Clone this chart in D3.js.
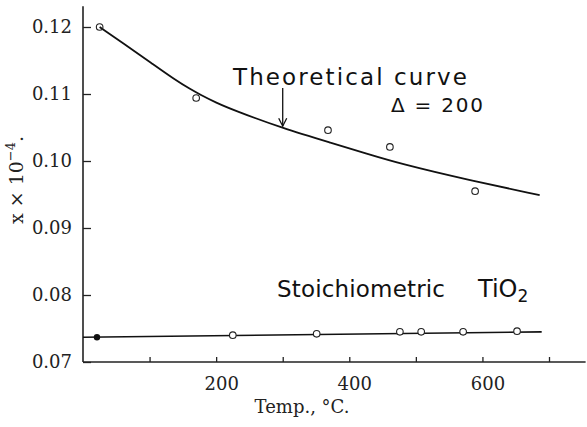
<!DOCTYPE html>
<html>
<head>
<meta charset="utf-8">
<script src="https://cdn.jsdelivr.net/npm/d3@7"></script>
<style>
  body { margin: 0; background: #fff; }
  .axis text { font-family: "DejaVu Serif", serif; font-size: 18px; fill: #222; }
  .hand { font-family: "DejaVu Sans", sans-serif; fill: #111; }
</style>
</head>
<body>
<div id="chart"></div>
<script>
// ticks
const xTicks = [100, 200, 300, 400, 500, 600, 700];
const xLabelled = [200, 400, 600];
const yTicks = [0.07, 0.08, 0.09, 0.10, 0.11, 0.12];

// theoretical curve (delta = 200)
const curveTemp = [25, 60, 103, 140, 160, 176, 200, 226, 299, 376, 426, 476, 577, 686];
const curveX = [0.1200, 0.1176, 0.1146, 0.1120, 0.1108, 0.1099, 0.1087, 0.1076, 0.1049, 0.1026, 0.1011, 0.0996, 0.0972, 0.0949];

// measured points, upper set
const measTemp = [25, 170, 368, 461, 589];
const measX = [0.1200, 0.1094, 0.1046, 0.1021, 0.0955];

// stoichiometric TiO2 points
const stoiTemp = [225, 351, 476, 508, 571, 652];
const stoiX = [0.0740, 0.0742, 0.0745, 0.0745, 0.0745, 0.0746];
const stoiFilled = [[21, 0.0737]];
const stoiLine = [[0, 0.0737], [689, 0.0745]];

const width = 587, height = 427;

const svg = d3.select('#chart').append('svg')
    .attr('width', width)
    .attr('height', height);

const x = d3.scaleLinear().domain([0, 700]).range([83, 549]);
const y = d3.scaleLinear().domain([0.07, 0.12]).range([362, 27]);

// y axis, ticks pointing inward
const yAxis = d3.axisLeft(y)
    .tickValues(yTicks)
    .tickFormat(d3.format('.2f'))
    .tickSizeInner(-8)
    .tickSizeOuter(0)
    .tickPadding(11);

const gy = svg.append('g')
    .attr('class', 'axis')
    .attr('transform', `translate(${x(0)},0)`)
    .call(yAxis);
gy.select('.domain').remove();
gy.selectAll('line').attr('stroke', '#222').attr('stroke-width', 1.3);

// x axis
const xAxis = d3.axisBottom(x)
    .tickValues(xTicks)
    .tickFormat(d => xLabelled.includes(d) ? d : '')
    .tickSizeInner(-5)
    .tickSizeOuter(0)
    .tickPadding(15);

const gx = svg.append('g')
    .attr('class', 'axis')
    .attr('transform', `translate(0,${y(0.07)})`)
    .call(xAxis);
gx.select('.domain').remove();
gx.selectAll('line').attr('stroke', '#222').attr('stroke-width', 1.3);
gx.selectAll('text').attr('dx', 5);

// axis lines
svg.append('line')
    .attr('x1', x(0)).attr('x2', x(0))
    .attr('y1', y(0.1231)).attr('y2', y(0.07))
    .attr('stroke', '#222').attr('stroke-width', 1.6);
svg.append('line')
    .attr('x1', x(0)).attr('x2', x(755))
    .attr('y1', y(0.07)).attr('y2', y(0.07))
    .attr('stroke', '#222').attr('stroke-width', 1.6);

// axis titles
svg.append('text')
    .attr('x', 302)
    .attr('y', 413)
    .attr('text-anchor', 'middle')
    .style('font-family', '"DejaVu Serif", serif')
    .style('font-size', '18px')
    .attr('fill', '#222')
    .text('Temp., °C.');

const yt = svg.append('text')
    .attr('transform', 'translate(23,180) rotate(-90)')
    .attr('text-anchor', 'middle')
    .style('font-family', '"DejaVu Serif", serif')
    .style('font-size', '19px')
    .attr('fill', '#222');
yt.append('tspan').text('x × 10');
yt.append('tspan').attr('dy', -8).style('font-size', '13px').text('−4');
yt.append('tspan').attr('dy', 8).text('.');

// theoretical curve
const line = d3.line()
    .x(d => x(d[0]))
    .y(d => y(d[1]))
    .curve(d3.curveBasis);

svg.append('path')
    .datum(d3.zip(curveTemp, curveX))
    .attr('d', line)
    .attr('fill', 'none')
    .attr('stroke', '#111')
    .attr('stroke-width', 1.8);

svg.append('g').selectAll('circle')
    .data(d3.zip(measTemp, measX))
    .join('circle')
    .attr('cx', d => x(d[0]))
    .attr('cy', d => y(d[1]))
    .attr('r', 3.3)
    .attr('fill', 'none')
    .attr('stroke', '#222')
    .attr('stroke-width', 1.1);

// stoichiometric line and points
svg.append('path')
    .datum(stoiLine)
    .attr('d', d3.line().x(d => x(d[0])).y(d => y(d[1])))
    .attr('fill', 'none')
    .attr('stroke', '#111')
    .attr('stroke-width', 1.6);

svg.append('g').selectAll('circle')
    .data(d3.zip(stoiTemp, stoiX))
    .join('circle')
    .attr('cx', d => x(d[0]))
    .attr('cy', d => y(d[1]))
    .attr('r', 3.3)
    .attr('fill', '#fff')
    .attr('stroke', '#222')
    .attr('stroke-width', 1.1);

svg.append('g').selectAll('circle')
    .data(stoiFilled)
    .join('circle')
    .attr('cx', d => x(d[0]))
    .attr('cy', d => y(d[1]))
    .attr('r', 3.2)
    .attr('fill', '#111');

// annotations
svg.append('text')
    .attr('class', 'hand')
    .attr('x', 233).attr('y', 85)
    .attr('textLength', 234)
    .style('font-size', '23px')
    .text('Theoretical curve');

svg.append('text')
    .attr('class', 'hand')
    .attr('x', 391).attr('y', 112)
    .attr('textLength', 92)
    .style('font-size', '20px')
    .text('Δ = 200');

// arrow to the curve
const ax = x(300);
svg.append('line')
    .attr('x1', ax).attr('x2', ax)
    .attr('y1', 88).attr('y2', y(0.1049) - 2)
    .attr('stroke', '#111').attr('stroke-width', 1.3);
svg.append('path')
    .attr('d', `M${ax - 4},${y(0.1049) - 10} L${ax},${y(0.1049) - 2} L${ax + 4},${y(0.1049) - 10}`)
    .attr('fill', 'none')
    .attr('stroke', '#111').attr('stroke-width', 1.3);

svg.append('text')
    .attr('class', 'hand')
    .attr('x', 277).attr('y', 297)
    .attr('textLength', 168)
    .style('font-size', '23px')
    .text('Stoichiometric');

const ti = svg.append('text')
    .attr('class', 'hand')
    .attr('x', 478).attr('y', 297)
    .style('font-size', '24px');
ti.append('tspan').text('TiO');
ti.append('tspan').attr('dy', 5).style('font-size', '17px').text('2');
</script>
</body>
</html>
